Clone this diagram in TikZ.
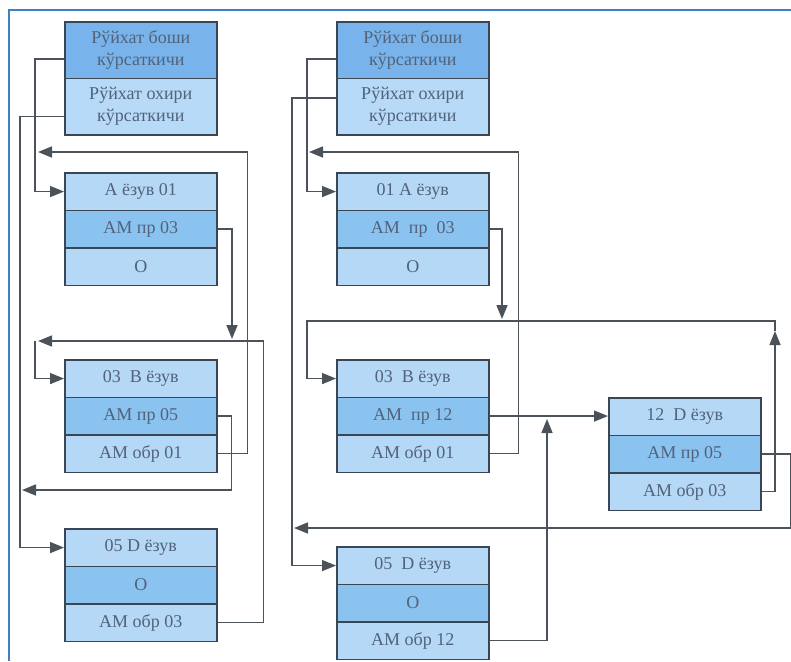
\documentclass[tikz,border=0pt]{standalone}
\usepackage{fontspec}
\setmainfont{Liberation Serif}
\usetikzlibrary{arrows.meta}
\definecolor{framec}{HTML}{3F7FC6}
\definecolor{boxc}{HTML}{3B4654}
\definecolor{connc}{HTML}{4B5259}
\definecolor{txtc}{HTML}{52627A}
\definecolor{hdark}{HTML}{78B4EB}
\definecolor{hlight}{HTML}{B6DAF8}
\definecolor{rlight}{HTML}{B4D8F6}
\definecolor{rdark}{HTML}{8AC2F0}
\begin{document}
\begin{tikzpicture}[x=1pt,y=-1pt,
  cell/.style={draw=boxc, line width=1.6pt, minimum width=152pt, minimum height=37.5pt,
    inner sep=0pt, anchor=north west, text=txtc, font=\fontsize{18}{22}\selectfont, align=center},
  lrow/.style={cell, fill=rlight},
  drow/.style={cell, fill=rdark},
  hbox/.style={cell, minimum height=56.5pt},
  conn/.style={draw=connc, line width=1.5pt},
  arr/.style={-{Triangle[length=14pt,width=11pt]}}
]
\useasboundingbox (0,0) rectangle (791,661);
\fill[white] (0,0) rectangle (791,661);
\draw[framec, line width=2.5pt] (9,661) -- (9,10) -- (791,10);

% ---------- left list ----------
\node[hbox, fill=hdark]  (hb1) at (64,21) {Рўйхат боши\\кўрсаткичи};
\node[hbox, fill=hlight] (he1) at (64,77.5) {Рўйхат охири\\кўрсаткичи};

\node[lrow] (a1) at (64,172)   {A ёзув 01};
\node[drow] (a2) at (64,209.5) {АМ пр 03};
\node[lrow] (a3) at (64,247)   {O};

\node[lrow] (b1) at (64,359)   {03 \ B ёзув};
\node[drow] (b2) at (64,396.5) {АМ пр 05};
\node[lrow] (b3) at (64,434)   {АМ обр 01};

\node[lrow] (d1) at (64,528)   {05 D ёзув};
\node[drow] (d2) at (64,565.5) {O};
\node[lrow] (d3) at (64,603)   {АМ обр 03};

% ---------- right list ----------
\node[hbox, fill=hdark]  (hb2) at (336,21) {Рўйхат боши\\кўрсаткичи};
\node[hbox, fill=hlight] (he2) at (336,77.5) {Рўйхат охири\\кўрсаткичи};

\node[lrow] (ra1) at (336,172)   {01 A ёзув};
\node[drow] (ra2) at (336,209.5) {АМ \ пр \ 03};
\node[lrow] (ra3) at (336,247)   {O};

\node[lrow] (rb1) at (336,359)   {03 \ B ёзув};
\node[drow] (rb2) at (336,396.5) {АМ \ пр 12};
\node[lrow] (rb3) at (336,434)   {АМ обр 01};

\node[lrow] (rd1) at (336,546)   {05 \ D ёзув};
\node[drow] (rd2) at (336,583.5) {O};
\node[lrow] (rd3) at (336,621)   {АМ обр 12};

\node[lrow] (c1) at (608,397)   {12 \ D ёзув};
\node[drow] (c2) at (608,434.5) {АМ пр 05};
\node[lrow] (c3) at (608,472)   {АМ обр 03};

% ---------- coordinates ----------
\coordinate (p1) at (38,152);
\coordinate (t1) at (232,339);
\coordinate (p2) at (38,341);
\coordinate (q1) at (35,341);
\coordinate (p3) at (22,490);

\coordinate (r1) at (309,152);
\coordinate (r2) at (502,319);
\coordinate (r3) at (775,331);
\coordinate (r4) at (307,321);
\coordinate (r5) at (547,419);
\coordinate (r6) at (294,528);

% ---------- left connectors ----------
\draw[conn,arr] ([yshift=-9pt]hb1.west) -- ++(-29,0) |- (a1.west);
\draw[conn,arr] ([yshift=-10pt]he1.west) -- ++(-44,0) |- (d1.west);
\draw[conn,arr] (b3.east) -- ++(30,0) |- (p1);
\draw[conn,arr] (a2.east) -| (t1);
\draw[conn,arr] (d3.east) -- ++(46,0) |- (p2);
\draw[conn,arr] (q1) |- (b1.west);
\draw[conn,arr] (b2.east) -- ++(14,0) |- (p3);

% ---------- right connectors ----------
\draw[conn,arr] ([yshift=-9pt]hb2.west) -- ++(-29,0) |- (ra1.west);
\draw[conn,arr] ([yshift=8.5pt]he2.west) -- ++(-44,0) |- (rd1.west);
\draw[conn,arr] (rb3.east) -- ++(29,0) |- (r1);
\draw[conn,arr] (ra2.east) -| (r2);
\draw[conn,arr] (c3.east) -| (r3);
\draw[conn,arr] (r3) |- (r4) |- (rb1.west);
\draw[conn,arr] (rb2.east) -- (rb2.east -| c1.west);
\draw[conn,arr] (rd3.east) -| (r5);
\draw[conn,arr] (c2.east) -- ++(29,0) |- (r6);
\end{tikzpicture}
\end{document}
